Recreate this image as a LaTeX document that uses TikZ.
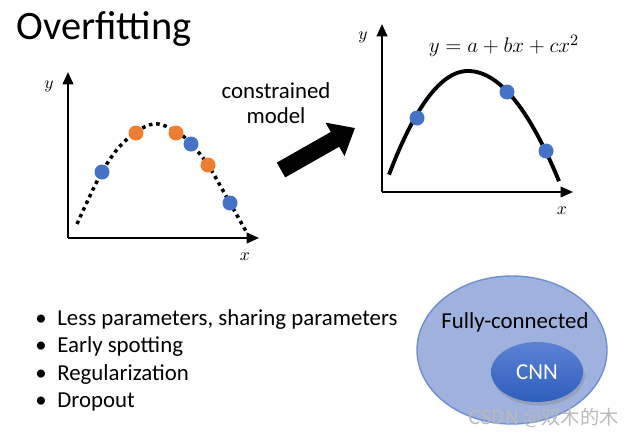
\documentclass[tikz,border=0pt]{standalone}
\usepackage{fontspec}
\setmainfont{Carlito}
\newfontfamily\cjkfont{Noto Sans CJK SC}
\usetikzlibrary{arrows.meta,shapes.geometric,shadows}

\definecolor{dotblue}{HTML}{4472C4}
\definecolor{dotorange}{HTML}{ED7D31}
\definecolor{fcfill}{HTML}{9FB1DD}
\definecolor{fcdraw}{HTML}{6F8FD2}
\definecolor{cnntop}{HTML}{5C82D4}
\definecolor{cnnbot}{HTML}{2E5EBD}

\tikzset{
  axis/.style={line width=1.2pt, -{Triangle[length=7pt,width=6pt]}},
  bluedot/.style={fill=dotblue},
  orangedot/.style={fill=dotorange},
  bodytext/.style={font=\fontsize{13}{15}\selectfont},
  bullettext/.style={bodytext, anchor=base west, inner sep=0pt},
  axislabel/.style={font=\normalsize},
}

\begin{document}
\begin{tikzpicture}[x={(0.02cm,0)}, y={(0,-0.02cm)}]
\useasboundingbox (0,0) rectangle (634,436);

% title
\node (title) [anchor=base west, inner sep=0pt, font=\fontsize{23}{26}\selectfont] at (16,39) {Overfitting};

% left plot: overfitted curve
\coordinate (lo) at (68,238);
\draw [axis] (lo) -- (68,72);
\draw [axis] (lo) -- (259,238);
\node (ly) [axislabel] at (49,86) {$y$};
\node (lx) [axislabel] at (245,257) {$x$};

\draw [line width=2pt, dash pattern=on 2pt off 2.2pt]
  plot [smooth, tension=0.6] coordinates {(77,224) (102,172) (125,141) (153,124) (177,132) (191,144) (208,165) (230,203) (247,233)};

\filldraw [bluedot, draw=none]   (102,172) circle (7.5) node (p1) {};
\filldraw [orangedot, draw=none] (136,133) circle (7.5) node (p2) {};
\filldraw [orangedot, draw=none] (176,133) circle (7.5) node (p3) {};
\filldraw [bluedot, draw=none]   (191,144) circle (7.5) node (p4) {};
\filldraw [orangedot, draw=none] (208,165) circle (7.5) node (p5) {};
\filldraw [bluedot, draw=none]   (230,203) circle (7.5) node (p6) {};

% block arrow
\node (constr) [bodytext, align=center] at (276,103) {constrained\\[-1pt]model};
\coordinate (atail) at (281,170);
\coordinate (ahead) at (355,128);
\draw [line width=0.34cm, -{Triangle[length=0.46cm,width=0.74cm]}] (atail) -- (ahead);

% right plot: constrained model
\coordinate (ro) at (382,192);
\draw [axis] (ro) -- (382,24);
\draw [axis] (ro) -- (573,192);
\node (ry) [axislabel] at (363,37) {$y$};
\node (rx) [axislabel] at (562,211) {$x$};
\node (eq) [font=\fontsize{13}{15}\selectfont] at (504,46) {$y = a + bx + cx^2$};

\draw [line width=2.2pt, line join=round]
  plot [domain=389:468, samples=30] (\x, {71+0.0166*(\x-468)^2})
  -- plot [domain=468:559, samples=30] (\x, {71+0.0133*(\x-468)^2});

\filldraw [bluedot, draw=none] (417,118) circle (7.5) node (q1) {};
\filldraw [bluedot, draw=none] (507,92)  circle (7.5) node (q2) {};
\filldraw [bluedot, draw=none] (546,151) circle (7.5) node (q3) {};

% bullet list
\foreach \i/\txt in {0/{Less parameters, sharing parameters}, 1/{Early spotting}, 2/{Regularization}, 3/{Dropout}} {
  \node (dot\i) [bullettext] at (35,325+27.5*\i) {\textbullet};
  \node (item\i) [bullettext] at (57,325+27.5*\i) {\txt};
}

% model capacity
\node (fc) [ellipse, draw=fcdraw, fill=fcfill, line width=0.8pt, minimum width=3.8cm, minimum height=2.96cm] at (512,350) {};
\node (fclabel) [bodytext] at (515,322) {Fully-connected};
\node (cnn) [ellipse, top color=cnntop, bottom color=cnnbot, draw=none, drop shadow={opacity=0.35, shadow xshift=1pt, shadow yshift=-2pt},
  minimum width=1.84cm, minimum height=1.2cm, text=white, bodytext] at (537,372) {CNN};

\node (mark) [text=gray!55, font=\cjkfont\fontsize{11}{13}\selectfont, anchor=base west, inner sep=0pt] at (468,424) {CSDN @双木的木};

\end{tikzpicture}
\end{document}
